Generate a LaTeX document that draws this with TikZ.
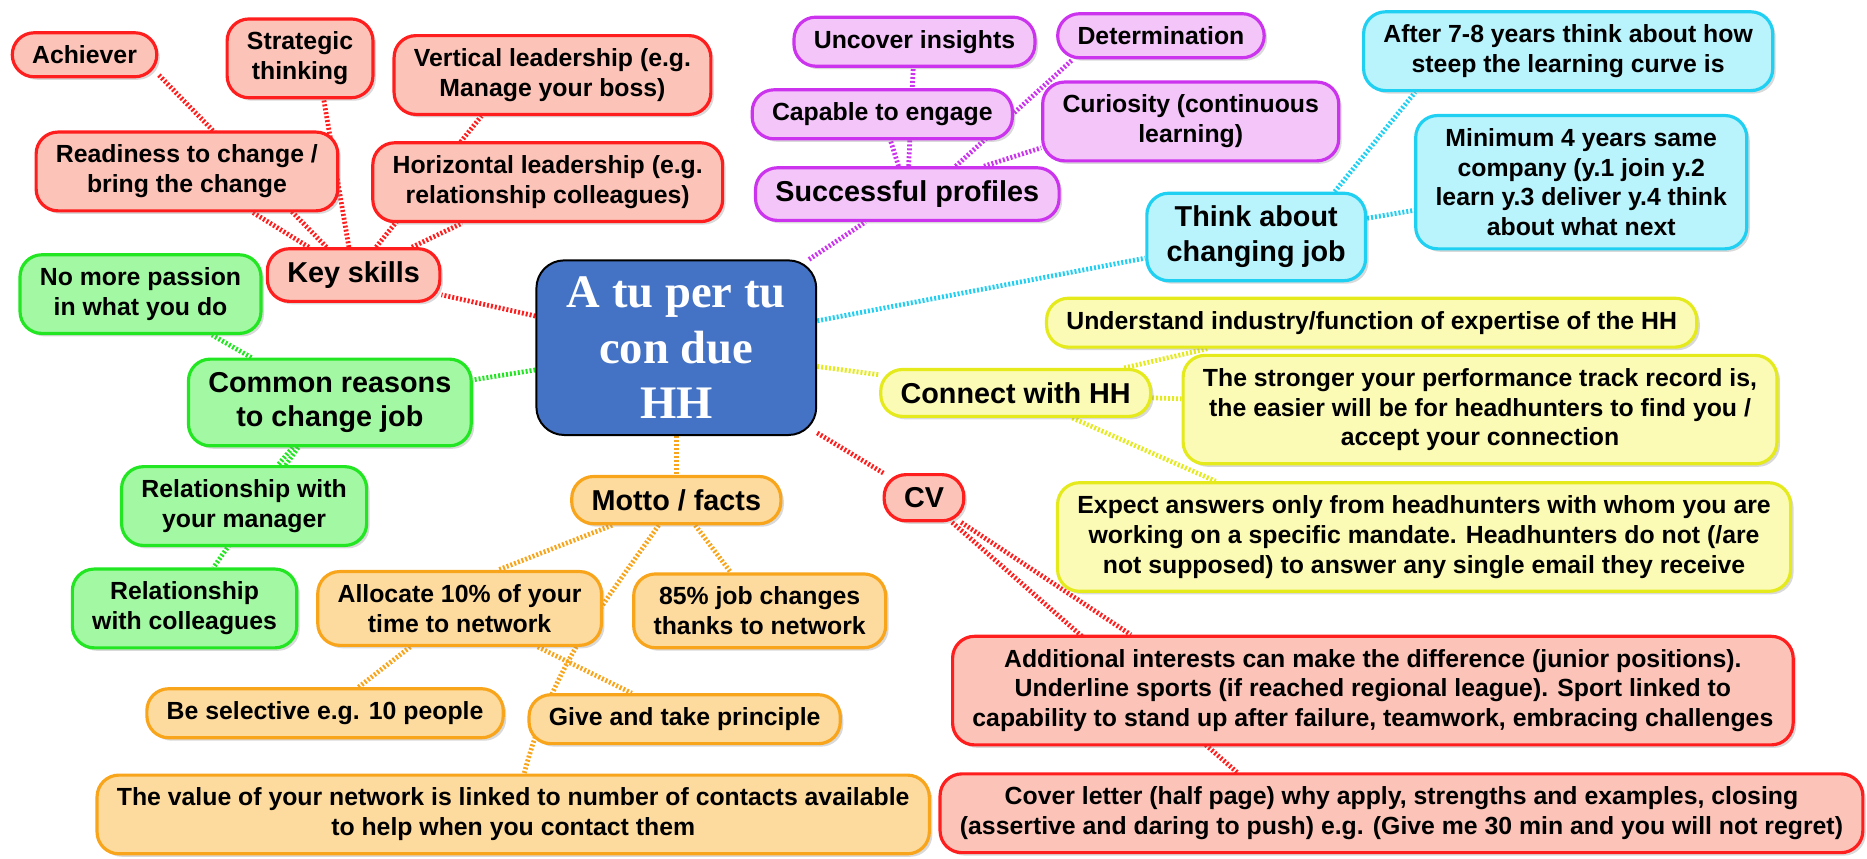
\documentclass[tikz,border=0pt]{standalone}
\usepackage{fontspec}
\setmainfont{Liberation Sans}
\newfontfamily\hubfont{Liberation Serif}
\usetikzlibrary{shadows,backgrounds}

\definecolor{ksline}{HTML}{FF1E1E}
\definecolor{ksfill}{HTML}{FCC4B8}
\definecolor{crline}{HTML}{22E622}
\definecolor{crfill}{HTML}{A3F9A3}
\definecolor{moline}{HTML}{F8A51C}
\definecolor{mofill}{HTML}{FDDB9E}
\definecolor{spline}{HTML}{CC33EE}
\definecolor{spfill}{HTML}{F3C5F8}
\definecolor{cjline}{HTML}{1FD0F2}
\definecolor{cjfill}{HTML}{B9F3FC}
\definecolor{hhline}{HTML}{E4EA1C}
\definecolor{hhfill}{HTML}{FBFBB5}
\definecolor{hubfill}{HTML}{4472C4}

\begin{document}
\begin{tikzpicture}[x=0.6pt,y=-0.6pt,
 bubble/.style={draw,rounded corners=11pt,line width=1.6pt,align=center,
   font=\bfseries\fontsize{12.5}{15}\selectfont,inner xsep=10pt,inner ysep=6.5pt,
   drop shadow={opacity=0.3,shadow xshift=1.5pt,shadow yshift=-1.5pt}},
 topic/.style={bubble,font=\bfseries\fontsize{14.5}{17.5}\selectfont},
 hub/.style={draw=black,line width=1pt,fill=hubfill,rounded corners=14pt,text=white,
   align=center,font=\hubfont\bfseries\fontsize{23.5}{28}\selectfont,
   minimum width=141pt,minimum height=88pt,inner sep=2pt},
 ks/.style={draw=ksline,fill=ksfill},
 cr/.style={draw=crline,fill=crfill},
 mo/.style={draw=moline,fill=mofill},
 sp/.style={draw=spline,fill=spfill},
 cj/.style={draw=cjline,fill=cjfill},
 hh/.style={draw=hhline,fill=hhfill},
 link/.style={line width=2.4pt,dash pattern=on 1pt off 1pt}]

\useasboundingbox (0,0) rectangle (1568,721);

\node[hub] (hub) at (568,292) {A tu per tu\\con due\\HH};

\node[topic,ks] (keyskills) at (297,231) {Key skills};
\node[bubble,ks] (achiever) at (71,46) {Achiever};
\node[bubble,ks] (strategic) at (252,49) {Strategic\\thinking};
\node[bubble,ks] (vertical) at (464,63) {Vertical leadership (e.g.\\Manage your boss)};
\node[bubble,ks] (readiness) at (157,144) {Readiness to change /\\bring the change};
\node[bubble,ks] (horizontal) at (460,153) {Horizontal leadership (e.g.\\relationship colleagues)};

\node[topic,cr] (reasons) at (277,338) {Common reasons\\to change job};
\node[bubble,cr] (passion) at (118,247) {No more passion\\in what you do};
\node[bubble,cr] (manager) at (205,425) {Relationship with\\your manager};
\node[bubble,cr] (colleagues) at (155,511) {Relationship\\with colleagues};

\node[topic,mo] (motto) at (568,420) {Motto / facts};
\node[bubble,mo] (allocate) at (386,511) {Allocate 10\% of your\\time to network};
\node[bubble,mo] (changes) at (638,513) {85\% job changes\\thanks to network};
\node[bubble,mo] (selective) at (273,599) {Be selective e.g. 10 people};
\node[bubble,mo] (givetake) at (575,604) {Give and take principle};
\node[bubble,mo] (value) at (431,684) {The value of your network is linked to number of contacts available\\to help when you contact them};

\node[topic,sp] (profiles) at (762,163) {Successful profiles};
\node[bubble,sp] (uncover) at (768,35) {Uncover insights};
\node[bubble,sp] (determination) at (975,30) {Determination};
\node[bubble,sp] (engage) at (741,96) {Capable to engage};
\node[bubble,sp] (curiosity) at (1000,102) {Curiosity (continuous\\learning)};

\node[topic,cj] (changing) at (1055,199) {Think about\\changing job};
\node[bubble,cj] (curve) at (1317,43) {After 7-8 years think about how\\steep the learning curve is};
\node[bubble,cj] (fouryears) at (1328,153) {Minimum 4 years same\\company (y.1 join y.2\\learn y.3 deliver y.4 think\\about what next};

\node[topic,hh] (connect) at (853,330) {Connect with HH};
\node[bubble,hh] (industry) at (1152,271) {Understand industry/function of expertise of the HH};
\node[bubble,hh] (record) at (1243,344) {The stronger your performance track record is,\\the easier will be for headhunters to find you /\\accept your connection};
\node[bubble,hh] (answers) at (1196,451) {Expect answers only from headhunters with whom you are\\working on a specific mandate. Headhunters do not (/are\\not supposed) to answer any single email they receive};

\node[topic,ks] (cv) at (776,418) {CV};
\node[bubble,ks] (interests) at (1153,580) {Additional interests can make the difference (junior positions).\\Underline sports (if reached regional league). Sport linked to\\capability to stand up after failure, teamwork, embracing challenges};
\node[bubble,ks] (cover) at (1177,683) {Cover letter (half page) why apply, strengths and examples, closing\\(assertive and daring to push) e.g. (Give me 30 min and you will not regret)};

\begin{scope}[on background layer]
\foreach \a/\b in {hub/keyskills,keyskills/achiever.-15,keyskills/strategic.-60,keyskills/vertical.-150,keyskills/readiness,keyskills/horizontal,hub/cv,cv/interests.167,cv/cover.166}
  \draw[link,ksline] (\a) -- (\b);
\foreach \a/\b in {hub/reasons,reasons/passion,reasons/manager,reasons/colleagues}
  \draw[link,crline] (\a) -- (\b);
\foreach \a/\b in {hub/motto,motto/allocate.45,motto/changes,allocate/selective,allocate/givetake}
  \draw[link,moline] (\a) -- (\b);
\draw[link,moline] (motto) to[out=-125,in=75] (value);
\foreach \a/\b in {hub/profiles,profiles/uncover,profiles/engage,profiles.30/determination.-165,profiles.20/curiosity.190}
  \draw[link,spline] (\a) -- (\b);
\foreach \a/\b in {hub/changing,changing.30/curve.195,changing/fouryears}
  \draw[link,cjline] (\a) -- (\b);
\foreach \a/\b in {hub/connect,connect/industry.-171,connect/record,connect/answers.165}
  \draw[link,hhline] (\a) -- (\b);
\end{scope}
\end{tikzpicture}
\end{document}
